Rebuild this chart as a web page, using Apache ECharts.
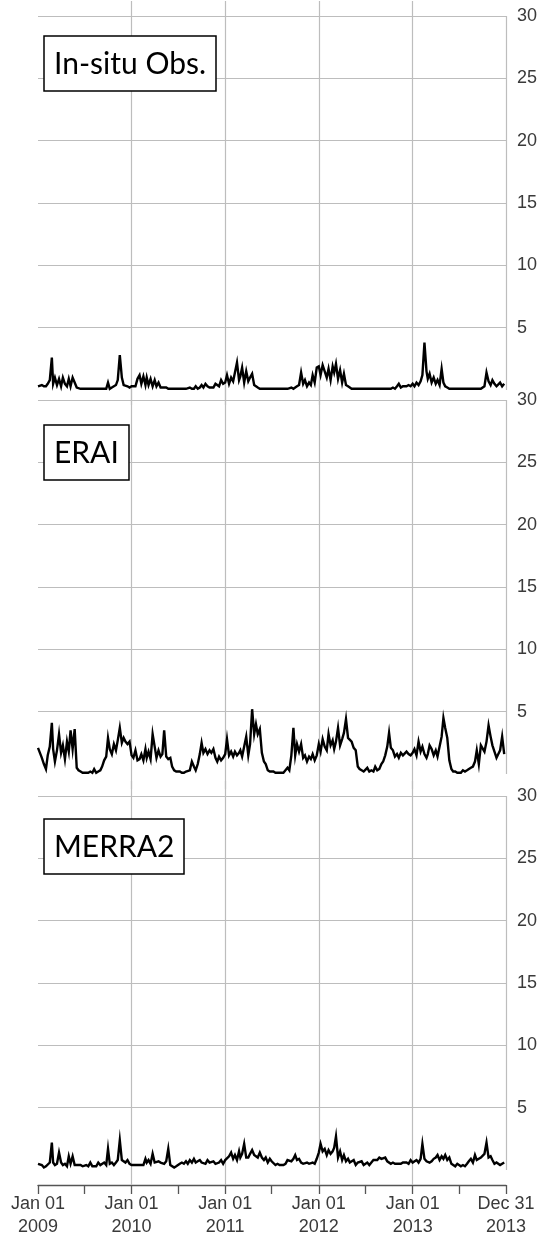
<!DOCTYPE html>
<html>
<head>
<meta charset="utf-8">
<script src="https://cdn.jsdelivr.net/npm/echarts@6/dist/echarts.min.js"></script>
<style>
html,body{margin:0;padding:0;background:#fff;}
#chart{width:553px;height:1248px;}
</style>
</head>
<body>
<div id="chart"></div>
<script>
// ---- data (4 samples per month: days 1, 8, 16, 24) ----
const years = [2009, 2010, 2011, 2012, 2013];
const sampleDays = [1, 8, 16, 24];
const panelTitles = ["In-situ Obs.", "ERAI", "MERRA2"];
const yTickLabels = [5, 10, 15, 20, 25, 30];
const xLabelDates = ["2009-01-01", "2010-01-01", "2011-01-01", "2012-01-01", "2013-01-01", "2013-12-31"];
const xTickDates = ["2009-01-01","2009-07-01","2010-01-01","2010-07-01","2011-01-01","2011-07-01",
                    "2012-01-01","2012-07-01","2013-01-01","2013-07-01","2013-12-31"];
const gridYearDates = ["2010-01-01", "2011-01-01", "2012-01-01", "2013-01-01"];

const insitu2009 = [0.3,0.2,0.4,0.3, 0.3,0.5,0.8,2.6, 0.5,1.0,0.4,0.9, 0.3,1.0,0.5,0.3, 0.9,0.3,1.0,0.6, 0.2,0.1,0.1,0.1,
                    0.1,0.1,0.1,0.1, 0.1,0.1,0.1,0.1, 0.1,0.1,0.1,0.1, 0.6,0.1,0.2,0.3, 0.4,0.8,2.8,1.0, 0.4,0.3,0.3,0.2];
const insitu2010 = [0.3,0.2,0.3,0.9, 1.2,0.5,1.1,0.4, 1.0,0.4,0.9,0.3, 0.8,0.3,0.6,0.2, 0.3,0.2,0.2,0.1, 0.1,0.1,0.1,0.1,
                    0.1,0.1,0.1,0.1, 0.1,0.1,0.2,0.1, 0.1,0.3,0.1,0.2, 0.4,0.2,0.5,0.3, 0.2,0.3,0.2,0.5, 0.4,0.3,0.8,0.5];
const insitu2011 = [0.6,1.2,0.5,1.0, 0.7,1.4,2.2,0.8, 1.1,1.8,0.6,1.5, 0.7,1.0,1.3,0.4, 0.3,0.2,0.1,0.1, 0.1,0.1,0.1,0.1,
                    0.1,0.1,0.1,0.1, 0.1,0.1,0.1,0.1, 0.1,0.1,0.2,0.1, 0.2,0.3,0.4,1.4, 0.5,0.8,0.3,0.6, 0.4,1.2,0.6,1.8];
const insitu2012 = [1.9,1.2,2.0,1.5, 1.0,1.7,0.8,1.9, 1.4,2.1,0.9,1.6, 0.6,1.3,0.4,0.3, 0.2,0.1,0.1,0.1, 0.1,0.1,0.1,0.1,
                    0.1,0.1,0.1,0.1, 0.1,0.1,0.1,0.1, 0.1,0.1,0.1,0.1, 0.1,0.1,0.2,0.1, 0.3,0.5,0.2,0.3, 0.2,0.3,0.4,0.3];
const insitu2013 = [0.5,0.3,0.6,0.4, 0.7,1.2,3.8,1.5, 0.9,1.3,0.6,1.0, 0.5,0.8,0.4,1.7, 0.6,0.3,0.2,0.1, 0.1,0.1,0.1,0.1,
                    0.1,0.1,0.1,0.1, 0.1,0.1,0.1,0.1, 0.1,0.1,0.1,0.1, 0.2,0.3,1.4,0.7, 0.4,0.8,0.5,0.3, 0.4,0.6,0.3,0.5];

const erai2009 = [2.1,2.2,1.3,0.8, 0.4,1.5,2.2,4.1, 2.0,1.0,1.9,3.2, 1.7,2.3,1.2,2.6, 1.8,3.5,2.0,3.6, 0.5,0.3,0.2,0.1,
                  0.1,0.1,0.1,0.2, 0.1,0.4,0.1,0.2, 0.3,0.6,1.1,1.4, 2.9,2.0,1.6,2.4, 1.9,2.7,3.7,2.5, 2.9,2.6,2.4,2.6];
const erai2010 = [1.5,1.3,1.9,1.1, 1.2,1.6,1.1,2.0, 1.3,1.8,1.2,3.2, 2.2,1.3,1.9,1.4, 1.6,3.5,1.4,1.2, 1.3,0.6,0.3,0.2,
                  0.1,0.2,0.1,0.1, 0.2,0.1,0.3,1.0, 0.6,0.3,0.8,1.6, 2.5,1.7,2.0,1.6, 1.9,1.7,2.0,1.3, 1.0,1.4,1.1,1.3];
const erai2011 = [1.6,2.8,1.5,1.8, 1.4,1.8,1.5,1.7, 1.9,1.4,2.2,3.0, 1.5,2.4,5.2,3.2, 4.0,3.2,3.6,1.7, 1.0,0.8,0.3,0.2,
                  0.1,0.2,0.1,0.1, 0.1,0.2,0.1,0.3, 0.5,0.3,1.5,3.7, 1.5,2.4,1.8,2.4, 1.3,1.5,1.0,1.4, 1.2,1.6,1.1,1.5];
const erai2012 = [2.4,1.8,2.8,2.2, 1.9,3.2,2.3,2.7, 2.0,2.6,3.7,2.3, 2.8,3.3,4.4,2.9, 3.0,2.6,2.1,1.9, 0.6,0.4,0.3,0.2,
                  0.2,0.5,0.2,0.3, 0.2,0.6,0.3,0.4, 0.8,1.0,1.5,2.2, 3.3,2.1,1.9,1.4, 1.6,1.3,1.7,1.5, 1.4,1.8,1.6,1.5];
const erai2013 = [1.7,2.0,1.5,2.6, 1.8,2.2,1.6,1.3, 1.6,2.3,2.0,1.5, 1.9,1.4,2.2,3.0, 4.5,3.7,2.9,1.1, 0.4,0.2,0.2,0.1,
                  0.2,0.1,0.3,0.2, 0.3,0.2,0.5,0.6, 1.0,1.9,0.8,2.3, 2.3,1.8,2.6,3.9, 3.0,2.3,1.8,1.3, 1.6,1.9,3.0,1.6];

const merra2009 = [0.5,0.6,0.4,0.2, 0.3,0.2,0.6,2.2, 0.6,0.4,0.5,1.4, 0.6,0.4,0.5,0.3, 1.1,0.5,1.1,0.4, 0.4,0.3,0.4,0.3,
                   0.3,0.4,0.3,0.6, 0.3,0.4,0.3,0.6, 0.4,0.5,0.6,0.4, 1.7,0.5,0.6,0.4, 0.6,0.8,2.4,0.8, 0.7,0.6,0.8,0.5];
const merra2010 = [0.4,0.3,0.4,0.4, 0.4,0.5,0.4,0.9, 0.6,0.8,0.5,1.3, 0.6,0.5,0.7,0.6, 0.6,0.5,0.7,1.7, 0.4,0.3,0.2,0.3,
                   0.4,0.5,0.6,0.5, 0.7,0.5,0.8,0.6, 0.9,0.6,0.7,0.8, 0.6,0.7,0.5,0.8, 0.6,0.5,0.7,0.5, 0.5,0.6,0.8,0.5];
const merra2011 = [0.8,0.9,1.1,1.4, 0.9,1.2,0.8,1.5, 1.0,1.3,2.1,1.0, 1.0,1.3,1.6,1.2, 1.1,1.0,1.4,1.0, 0.8,1.0,0.6,0.9,
                   0.7,0.6,0.4,0.5, 0.4,0.3,0.4,0.5, 0.8,0.9,0.7,0.9, 1.2,0.8,0.9,0.6, 0.5,0.4,0.6,0.5, 0.4,0.6,0.5,0.9];
const merra2012 = [1.4,2.1,1.5,1.7, 1.2,1.6,1.3,1.5, 1.8,2.7,1.0,1.5, 0.8,1.2,0.7,0.9, 0.6,0.5,0.8,0.4, 0.6,0.5,0.7,0.4,
                   0.5,0.6,0.4,0.6, 0.8,0.9,0.8,1.0, 0.9,0.8,1.0,0.7, 0.6,0.5,0.6,0.5, 0.5,0.4,0.5,0.6, 0.5,0.6,0.5,0.8];
const merra2013 = [0.6,0.7,0.8,0.6, 0.9,2.1,0.9,0.7, 0.8,0.6,0.7,0.9, 1.0,1.2,0.8,1.1, 0.9,1.2,0.8,1.0, 0.5,0.4,0.3,0.5,
                   0.4,0.3,0.4,0.3, 0.5,0.7,0.9,0.6, 1.2,0.8,0.9,1.0, 0.9,1.3,2.2,1.0, 1.1,0.8,0.5,0.6, 0.5,0.4,0.5,0.6];

const seriesValues = [
  [].concat(insitu2009, insitu2010, insitu2011, insitu2012, insitu2013),
  [].concat(erai2009, erai2010, erai2011, erai2012, erai2013),
  [].concat(merra2009, merra2010, merra2011, merra2012, merra2013)
];

// ---- build ----
const ts = s => { const [y, m, d] = s.split("-").map(Number); return Date.UTC(y, m - 1, d); };
const sampleTimes = [];
years.forEach(y => { for (let m = 0; m < 12; m++) sampleDays.forEach(d => sampleTimes.push(Date.UTC(y, m, d))); });

const xMin = ts("2009-01-01"), xMax = ts("2013-12-31");
const MON = ["Jan","Feb","Mar","Apr","May","Jun","Jul","Aug","Sep","Oct","Nov","Dec"];
const fmtDate = v => { const d = new Date(v); return MON[d.getUTCMonth()] + " " + String(d.getUTCDate()).padStart(2, "0") + "\n" + d.getUTCFullYear(); };

const panelTop = [1, 385, 781];
const panelH = 404;
const gridColor = "#bdbdbd";

const grids = [], xAxes = [], yAxes = [], series = [], titles = [];
const titleTops = [36, 425, 819];
for (let i = 0; i < 3; i++) {
  grids.push({ left: 38, right: 47, top: panelTop[i], height: panelH });
  const isLast = i === 2;
  xAxes.push({
    type: "value", gridIndex: i, min: xMin, max: xMax,
    splitLine: { show: false },
    axisLine: { show: isLast, onZero: false, lineStyle: { color: "#555", width: 1.3 } },
    axisTick: { show: isLast, customValues: xTickDates.map(ts), length: 9, inside: false, lineStyle: { color: "#555", width: 1.3 } },
    axisLabel: { show: isLast, customValues: xLabelDates.map(ts), formatter: fmtDate, color: "#3a3a3a",
                 fontSize: 18, lineHeight: 23, margin: 8, fontFamily: "Liberation Sans" }
  });
  yAxes.push({
    type: "value", gridIndex: i, position: "right", min: -1.2, max: 31.2,
    splitLine: { show: false }, axisLine: { show: false }, axisTick: { show: false },
    axisLabel: { customValues: yTickLabels, color: "#3a3a3a", fontSize: 18, margin: 11, align: "left",
                 fontFamily: "Liberation Sans" }
  });
  const mlData = [];
  yTickLabels.forEach(v => mlData.push({ yAxis: v }));
  gridYearDates.forEach(d => mlData.push({ xAxis: ts(d) }));
  mlData.push([{ coord: [xMax, 0] }, { coord: [xMax, 30] }]);
  series.push({
    type: "line", xAxisIndex: i, yAxisIndex: i, showSymbol: false, symbol: "none",
    data: sampleTimes.map((t, k) => [t, seriesValues[i][k]]),
    lineStyle: { color: "#000", width: 2.4, join: "miter" }, z: 5, animation: false,
    markLine: { silent: true, symbol: "none", animation: false, label: { show: false },
                lineStyle: { color: gridColor, width: 1.2, type: "solid" }, z: 1, data: mlData }
  });
  titles.push({
    text: panelTitles[i], left: 44, top: titleTops[i],
    borderColor: "#000", borderWidth: 1.5, padding: [13, 10, 12, 10], backgroundColor: "#fff",
    textStyle: { color: "#000", fontSize: 30, fontWeight: "normal", fontFamily: "Lato" }
  });
}

const chart = echarts.init(document.getElementById("chart"), null, { renderer: "canvas" });
chart.setOption({ animation: false, backgroundColor: "#fff", title: titles, grid: grids, xAxis: xAxes, yAxis: yAxes, series: series });
</script>
</body>
</html>
